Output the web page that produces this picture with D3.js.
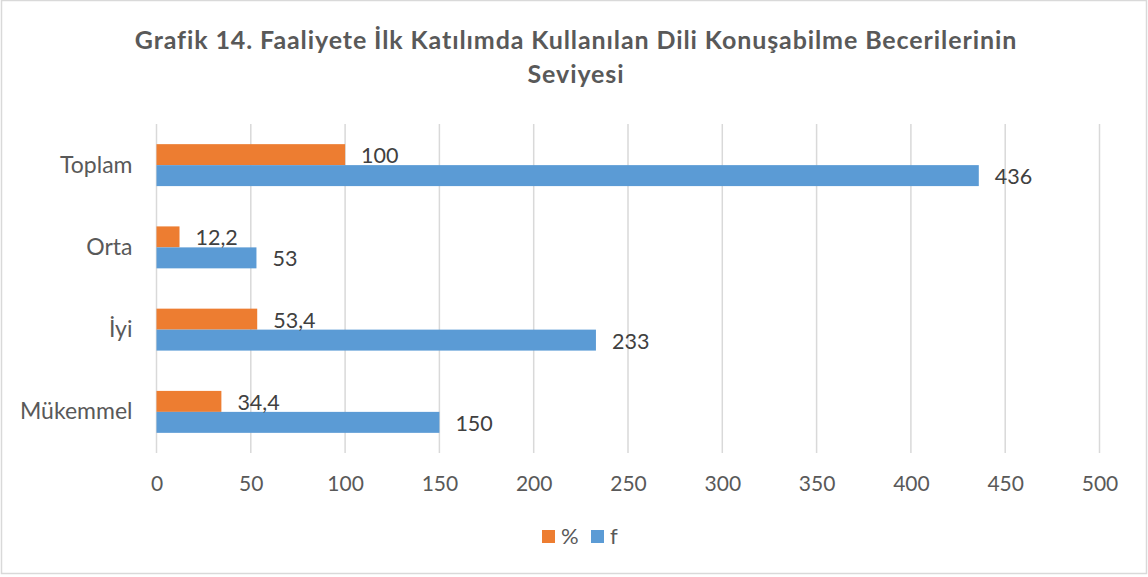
<!DOCTYPE html>
<html>
<head>
<meta charset="utf-8">
<script src="https://cdn.jsdelivr.net/npm/d3@7"></script>
<style>
  body { margin: 0; background: #fff; }
  svg { display: block; font-family: Lato, "Open Sans", sans-serif; }
</style>
</head>
<body>
<svg id="chart" width="1148" height="577"></svg>
<script>
// data
const categories = ["Toplam", "Orta", "İyi", "Mükemmel"]
const percentValues = [100, 12.2, 53.4, 34.4]
const freqValues = [436, 53, 233, 150]
const seriesNames = ["%", "f"]
const seriesColors = ["#ED7D31", "#5B9BD5"]
const xTicks = [0, 50, 100, 150, 200, 250, 300, 350, 400, 450, 500]
const titleLines = ["Grafik 14. Faaliyete İlk Katılımda Kullanılan Dili Konuşabilme Becerilerinin", "Seviyesi"]

const svg = d3.select("#chart")
const W = 1148, H = 577
const plot = { left: 156.5, right: 1099.5, top: 124, bottom: 453 }

// chart border
svg.append("rect")
    .attr("x", 1.5).attr("y", 0.5)
    .attr("width", W - 3).attr("height", 573)
    .attr("fill", "#fff")
    .attr("stroke", "#d9d9d9")
    .attr("stroke-width", 1.5)

// title
svg.append("g")
    .selectAll("text")
    .data(titleLines)
    .join("text")
        .attr("x", 576)
        .attr("y", (d, i) => 49 + i * 34)
        .attr("text-anchor", "middle")
        .attr("font-weight", "bold")
        .attr("font-size", 25)
        .attr("letter-spacing", 0.9)
        .attr("fill", "#595959")
        .text(d => d)

const x = d3.scaleLinear().domain([0, 500]).range([plot.left, plot.right])
const y = d3.scaleBand()
    .domain(categories)
    .range([plot.top, plot.bottom])
    .paddingInner(0.49)
    .paddingOuter(0.245)
const ySub = d3.scaleBand().domain(seriesNames).range([0, y.bandwidth()])

// gridlines
svg.append("g")
    .selectAll("line")
    .data(xTicks)
    .join("line")
        .attr("x1", d => x(d)).attr("x2", d => x(d))
        .attr("y1", plot.top).attr("y2", plot.bottom)
        .attr("stroke", "#d9d9d9")
        .attr("stroke-width", 1.5)

// x axis labels
const xAxis = svg.append("g")
    .attr("transform", `translate(0,${plot.bottom})`)
    .call(d3.axisBottom(x).tickValues(xTicks).tickSize(0).tickPadding(23).tickFormat(d3.format("d")))
xAxis.select(".domain").remove()
xAxis.selectAll("text")
    .attr("font-family", "Lato, sans-serif")
    .attr("font-size", 21)
    .attr("fill", "#595959")

// y axis labels
const yAxis = svg.append("g")
    .attr("transform", `translate(${plot.left},0)`)
    .call(d3.axisLeft(y).tickSize(0).tickPadding(24))
yAxis.select(".domain").remove()
yAxis.selectAll("text")
    .attr("font-family", "Lato, sans-serif")
    .attr("font-size", 23)
    .attr("fill", "#595959")

const rows = categories.map((c, i) => ({ cat: c, values: [percentValues[i], freqValues[i]] }))
const fmt = v => String(v).replace(".", ",")

const groups = svg.append("g")
    .selectAll("g")
    .data(rows)
    .join("g")
        .attr("transform", d => `translate(0,${y(d.cat)})`)

groups.selectAll("rect")
    .data(d => d.values.map((v, j) => ({ v, s: seriesNames[j], c: seriesColors[j] })))
    .join("rect")
        .attr("x", x(0))
        .attr("y", d => ySub(d.s))
        .attr("width", d => x(d.v) - x(0))
        .attr("height", ySub.bandwidth())
        .attr("fill", d => d.c)

groups.selectAll("text")
    .data(d => d.values.map((v, j) => ({ v, s: seriesNames[j] })))
    .join("text")
        .attr("x", d => x(d.v) + 16)
        .attr("y", d => ySub(d.s) + ySub.bandwidth() / 2 + 1)
        .attr("dy", "0.35em")
        .attr("font-size", 21.5)
        .attr("fill", "#404040")
        .text(d => fmt(d.v))

// legend
const legend = svg.append("g").attr("transform", "translate(542,530)")
const items = legend.selectAll("g")
    .data(seriesNames)
    .join("g")
        .attr("transform", (d, i) => `translate(${i * 49},0)`)
items.append("rect")
    .attr("width", 13).attr("height", 13)
    .attr("fill", (d, i) => seriesColors[i])
items.append("text")
    .attr("x", 19).attr("y", 14)
    .attr("font-size", 22)
    .attr("fill", "#595959")
    .text(d => d)
</script>
</body>
</html>
